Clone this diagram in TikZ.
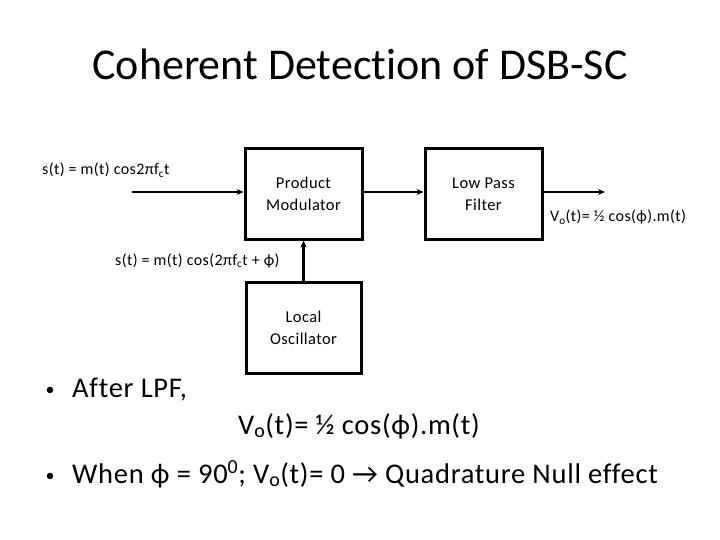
\documentclass[tikz,border=0pt]{standalone}
\usepackage{fontspec}
\setmainfont{Carlito}[Ligatures=NoCommon]
\newfontfamily\widefont{Carlito}[Ligatures=NoCommon, LetterSpace=2.5]
\usetikzlibrary{arrows.meta}
\begin{document}
\begin{tikzpicture}[x=1pt, y=-1pt, >={Stealth[length=7pt,width=6pt]},
	blockbox/.style={draw, line width=3pt, minimum width=117pt, minimum height=90pt, align=center, font=\widefont\fontsize{16.5}{22}\selectfont},
	sig/.style={->, line width=2.2pt},
	lbl/.style={anchor=base west, inner sep=0pt, font=\widefont\fontsize{16}{18}\selectfont},
	bullet/.style={anchor=base west, inner sep=0pt, font=\widefont\fontsize{28.5}{32}\selectfont}]
	\useasboundingbox (0,0) rectangle (720,540);
	% title
	\node[anchor=base, inner sep=0pt, font=\fontsize{44}{50}\selectfont] (title) at (360,80) {Coherent Detection of DSB-SC};
	% blocks
	\node[blockbox] (prodmod) at (303.5,194) {Product\\Modulator};
	\node[blockbox] (lpf) at (483.5,194) {Low Pass\\Filter};
	\node[blockbox, minimum width=115pt, minimum height=91pt] (osc) at (303.5,327.5) {Local\\Oscillator};
	% signals
	\coordinate (in) at (132,192);
	\coordinate (out) at (605,192);
	\draw[sig] (in) -- (in -| prodmod.west);
	\draw[sig] (prodmod.east |- in) -- (lpf.west |- in);
	\draw[sig] (lpf.east |- in) -- (out);
	\draw[sig] (osc.north) -- (prodmod.south);
	% labels
	\node[lbl] (inlbl) at (42,175) {s(t) = m(t) cos2πf\textsubscript{c}t};
	\node[lbl] (osclbl) at (115,265) {s(t) = m(t) cos(2πf\textsubscript{c}t + ϕ)};
	\node[lbl] (outlbl) at (550,222) {V\textsubscript{o}(t)= ½ cos(ϕ).m(t)};
	% bullets
	\node[bullet, font=\fontsize{18}{20}\selectfont, anchor=base] (dot1) at (50,395) {•};
	\node[bullet] (after) at (72,397) {After LPF,};
	\node[bullet] (vout) at (238,434) {V\textsubscript{o}(t)= ½ cos(ϕ).m(t)};
	\node[bullet, font=\fontsize{18}{20}\selectfont, anchor=base] (dot2) at (50,481) {•};
	\node[bullet] (when) at (72,483) {When ϕ = 90\textsuperscript{0}; V\textsubscript{o}(t)= 0 → Quadrature Null effect};
\end{tikzpicture}
\end{document}
